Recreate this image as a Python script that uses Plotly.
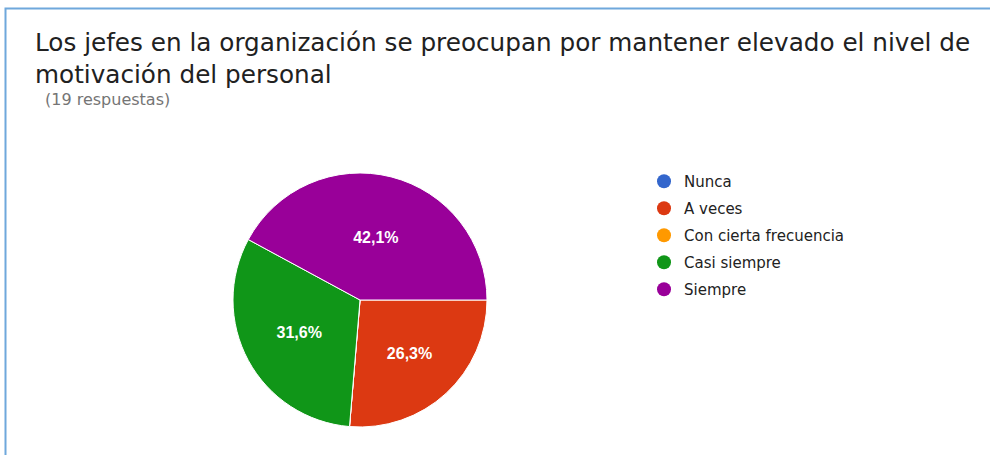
import plotly.graph_objects as go

title_lines = ["Los jefes en la organización se preocupan por mantener elevado el nivel de",
               "motivación del personal"]
subtitle = "(19 respuestas)"
categories = ["Nunca", "A veces", "Con cierta frecuencia", "Casi siempre", "Siempre"]
counts = [0, 5, 0, 6, 8]
colors = ["#3366cc", "#dc3912", "#ff9900", "#109618", "#990099"]

W, H = 990, 455

fig = go.Figure()

total = sum(counts)
texts = [("%.1f%%" % (100 * c / total)).replace(".", ",") if c > 0 else "" for c in counts]

fig.add_trace(go.Pie(
    labels=categories, values=counts, text=texts,
    textinfo="text", textposition="inside", insidetextorientation="horizontal",
    marker=dict(colors=colors, line=dict(color="white", width=1)),
    sort=False, direction="clockwise", rotation=90,
    textfont=dict(family="Arial, Liberation Sans", size=16, color="white", weight="bold"),
    showlegend=False, hoverinfo="label+percent",
    domain=dict(x=[233 / W, 487 / W], y=[1 - 427 / H, 1 - 173 / H]),
))

for i, (cat, col) in enumerate(zip(categories, colors)):
    fig.add_trace(go.Scatter(
        x=[None], y=[None], mode="markers", name=cat,
        marker=dict(color=col, size=14, symbol="circle"),
        legendgroup="g%d" % i, showlegend=True,
    ))

fig.update_layout(
    width=W, height=H,
    margin=dict(l=0, r=0, t=0, b=0),
    paper_bgcolor="white", plot_bgcolor="white",
    xaxis=dict(visible=False), yaxis=dict(visible=False),
    legend=dict(x=644 / W, y=1 - 165 / H, xanchor="left", yanchor="top",
                font=dict(family="DejaVu Sans", size=15, color="#222222"),
                tracegroupgap=4.5, itemwidth=30, bgcolor="rgba(0,0,0,0)"),
    shapes=[dict(type="rect", xref="paper", yref="paper",
                 x0=5.5 / W, x1=1.05, y0=-0.05, y1=1 - 8.5 / H,
                 line=dict(color="#6fa8dc", width=2))],
    annotations=[
        dict(text="<br>".join(title_lines), x=33 / W, y=1 - 26 / H, xref="paper", yref="paper",
             xanchor="left", yanchor="top", align="left", showarrow=False,
             font=dict(family="DejaVu Sans", size=24.7, color="#212121")),
        dict(text=subtitle, x=43 / W, y=1 - 88 / H, xref="paper", yref="paper",
             xanchor="left", yanchor="top", align="left", showarrow=False,
             font=dict(family="DejaVu Sans", size=16, color="#757575")),
    ],
)

fig.write_html("out.html", config={"displayModeBar": False},
               post_script="document.body.style.margin='0';document.body.style.overflow='hidden';")
